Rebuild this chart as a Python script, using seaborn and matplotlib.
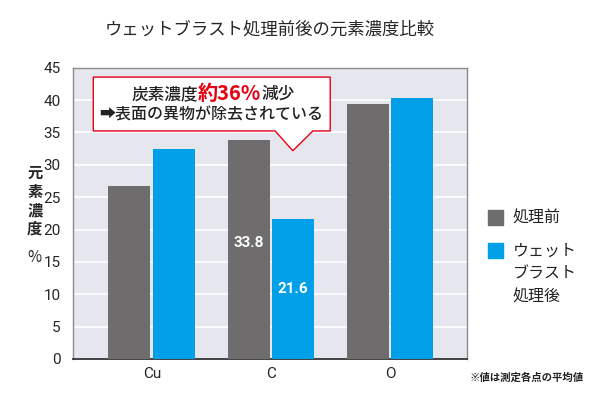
import matplotlib.pyplot as plt
import matplotlib.patches as mpatches
import pandas as pd
import seaborn as sns

elements = ["Cu", "C", "O"]
before = [26.8, 33.8, 39.4]
after = [32.5, 21.6, 40.3]
conditions = ["処理前", "ウェットブラスト処理後"]
legend_labels = ["処理前", "ウェット\nブラスト\n処理後"]
yticks = [0, 5, 10, 15, 20, 25, 30, 35, 40, 45]
colors = ["#6e6c6d", "#00a0e8"]

df = pd.DataFrame({
    "element": elements * 2,
    "condition": [conditions[0]] * 3 + [conditions[1]] * 3,
    "value": before + after,
})

sns.set_theme(style="white")
plt.rcParams["font.family"] = ["Noto Sans CJK JP", "DejaVu Sans"]

fig, ax = plt.subplots(figsize=(6, 4.01), dpi=100)
fig.subplots_adjust(left=0.122, right=0.778, top=0.831, bottom=0.105)

sns.barplot(df, x="element", y="value", hue="condition", order=elements,
            hue_order=conditions, palette=colors, linewidth=0,
            width=0.75, gap=0.06, saturation=1, ax=ax, legend=False, zorder=3)

ax.set_facecolor("#e6e6ee")
ax.set_ylim(0, 45)
ax.set_xlim(-0.66, 2.645)
ax.set_yticks(yticks)
ax.yaxis.grid(True, color="white", linewidth=1.2, zorder=0)
ax.set_axisbelow(True)
ax.set_xlabel("")
ax.set_ylabel("")
ax.tick_params(axis="both", length=0, labelsize=11)
ax.tick_params(axis="y", pad=9)
ax.tick_params(axis="x", pad=6)
for lab in ax.get_yticklabels() + ax.get_xticklabels():
    lab.set_family(["Roboto", "DejaVu Sans"])
for s in ["left", "top", "right"]:
    ax.spines[s].set_color("#8c8c8c")
    ax.spines[s].set_linewidth(1)
ax.spines["bottom"].set_color("#333333")
ax.spines["bottom"].set_linewidth(1.3)

# values inside the C bars
for cont in ax.containers:
    for e, v, bar in zip(elements, cont.datavalues, cont):
        if e == "C":
            ax.text(bar.get_x() + bar.get_width() / 2, v * 0.53 if v > 30 else v / 2,
                    f"{v:.1f}", ha="center", va="center", color="white",
                    fontsize=11, fontweight="bold", family=["Roboto", "DejaVu Sans"],
                    zorder=4)

ax.set_title("ウェットブラスト処理前後の元素濃度比較", fontsize=12.5, pad=24)

# y label
fig.text(0.058, 1 - 201 / 401, "元\n素\n濃\n度", ha="center", va="center", fontsize=11,
         linespacing=1.2, fontweight="bold")
fig.text(0.058, 1 - 257 / 401, "%", ha="center", va="center", fontsize=11)

# legend (handle aligned with first label line)
for i, (lab, c) in enumerate(zip(legend_labels, colors)):
    ytop = [210, 243][i]
    fig.patches.append(mpatches.Rectangle((488 / 600, 1 - (ytop + 15) / 401), 15 / 600, 15 / 401,
                                          transform=fig.transFigure, color=c))
    fig.text(513 / 600, 1 - ytop / 401, lab, ha="left", va="top", fontsize=11.5,
             linespacing=1.45, color="#222222")

# callout box
pts = [(0.051, 0.968), (0.653, 0.968), (0.653, 0.783), (0.609, 0.783),
       (0.558, 0.715), (0.513, 0.783), (0.051, 0.783)]
ax.add_patch(mpatches.Polygon(pts, closed=True, transform=ax.transAxes,
                              facecolor="white", edgecolor="#e60012",
                              linewidth=1, zorder=5))

fig.canvas.draw()
r = fig.canvas.get_renderer()
parts = [("炭素濃度", "#222222", 12, "medium"),
         ("約36%", "#e60012", 14.5, "bold"),
         ("減少", "#222222", 12, "medium")]
texts = []
for s, c, fs, fw in parts:
    t = fig.text(0, 1 - 94 / 401, s, color=c, fontsize=fs, fontweight=fw,
                 va="center", ha="left", zorder=6)
    texts.append(t)
widths = [t.get_window_extent(r).width for t in texts]
x0 = 213 - sum(widths) / 2
for t, w in zip(texts, widths):
    t.set_x(x0 / 600)
    x0 += w
fig.text(211 / 600, 1 - 115 / 401, "➡表面の異物が除去されている", ha="center", va="center",
         fontsize=11.5, color="#222222", fontweight="medium",
         family=["Noto Sans CJK JP", "DejaVu Sans"])

fig.text(0.972, 0.058, "※値は測定各点の平均値", ha="right", va="center",
         fontsize=7.5, fontweight="bold", color="#222222")

fig.savefig("out.png", dpi=100)
